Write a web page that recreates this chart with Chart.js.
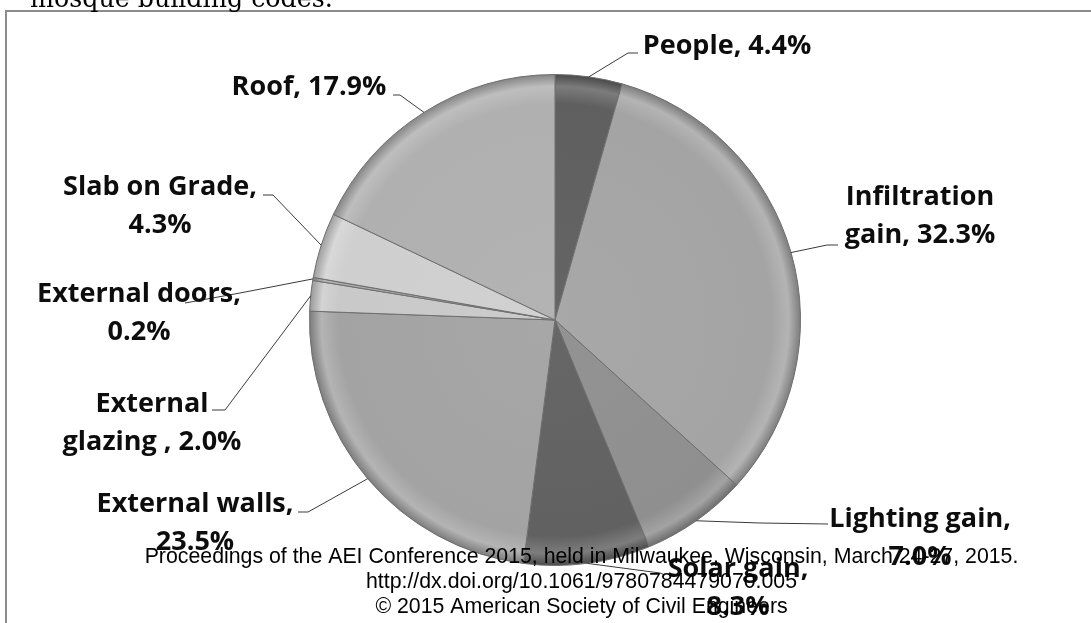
<!DOCTYPE html>
<html>
<head>
<meta charset="utf-8">
<script src="https://cdn.jsdelivr.net/npm/chart.js@4.4.1/dist/chart.umd.min.js"></script>
<style>
  html, body { margin: 0; padding: 0; background: #fff; overflow: hidden; }
  #wrap { position: relative; width: 1091px; height: 623px; }
  #frame { position: absolute; left: 5px; top: 10px; width: 1200px; height: 700px;
           border: 2px solid #8c8c8c; box-sizing: border-box; }
  canvas { position: absolute; left: 0; top: 0; }
</style>
</head>
<body>
<div id="wrap">
  <div id="frame"></div>
  <canvas id="c" width="1091" height="623"></canvas>
</div>
<script>
// ---- data ----
const categories = ['People', 'Infiltration gain', 'Lighting gain', 'Solar gain', 'External walls',
                    'External glazing ', 'External doors', 'Slab on Grade', 'Roof'];
const values = [4.4, 32.3, 7.0, 8.3, 23.5, 2.0, 0.2, 4.3, 17.9];
const headerText = 'mosque building codes.';
const footerLines = [
  'Proceedings of the AEI Conference 2015, held in Milwaukee, Wisconsin, March 24-27, 2015.',
  'http://dx.doi.org/10.1061/9780784479070.005',
  '\u00A9 2015 American Society of Civil Engineers'
];

// ---- styles / layout ----
const sliceColors = ['#5f5f5f', '#a4a4a4', '#8f8f8f', '#616161', '#a3a3a3',
                     '#c9c9c9', '#a8a8a8', '#cfcfcf', '#b0b0b0'];
// label layout relative to pie centre: break after N words, elbow, end, text centre x, first baseline
const labelLayout = [
  { brk: 0, elbow: [73, -267],  end: [83, -267],  tx: 172,  ty: -266 },
  { brk: 1, elbow: [272, -75],  end: [283, -75],  tx: 365,  ty: -115 },
  { brk: 2, elbow: [205, 203],  end: [273, 204],  tx: 365,  ty: 207 },
  { brk: 2, elbow: [105, 253],  end: [110, 255],  tx: 183,  ty: 257 },
  { brk: 2, elbow: [-247, 192], end: [-257, 192], tx: -360, ty: 192 },
  { brk: 1, elbow: [-330, 90],  end: [-343, 90],  tx: -403, ty: 92 },
  { brk: 2, elbow: [-315, -27], end: [-370, -17], tx: -416, ty: -18 },
  { brk: 3, elbow: [-282, -125],end: [-292, -125],tx: -395, ty: -125 },
  { brk: 0, elbow: [-155, -225],end: [-162, -225],tx: -246, ty: -225 }
];
const LABEL_FONT = 'bold 27px "Open Sans"';
const LINE_H = 38;

function shade(hex, f) {
  const n = parseInt(hex.slice(1), 16);
  let r = (n >> 16) & 255, g = (n >> 8) & 255, b = n & 255;
  const t = f > 0 ? 255 : 0, a = Math.abs(f);
  r = Math.round(r + (t - r) * a); g = Math.round(g + (t - g) * a); b = Math.round(b + (t - b) * a);
  return `rgb(${r},${g},${b})`;
}

const labelPlugin = {
  id: 'labels',
  afterDatasetsDraw(chart) {
    const ctx = chart.ctx;
    const meta = chart.getDatasetMeta(0);
    ctx.save();
    meta.data.forEach((arc, i) => {
      const p = arc.getProps(['x', 'y', 'startAngle', 'endAngle', 'outerRadius'], true);
      const mid = (p.startAngle + p.endAngle) / 2;
      const sx = p.x + Math.cos(mid) * p.outerRadius;
      const sy = p.y + Math.sin(mid) * p.outerRadius;
      const L = labelLayout[i];
      ctx.strokeStyle = '#3a3a3a';
      ctx.lineWidth = 1;
      ctx.beginPath();
      ctx.moveTo(sx, sy);
      ctx.lineTo(p.x + L.elbow[0], p.y + L.elbow[1]);
      ctx.lineTo(p.x + L.end[0], p.y + L.end[1]);
      ctx.stroke();
      const full = categories[i] + ', ' + values[i].toFixed(1) + '%';
      const words = full.split(' ');
      const lines = L.brk ? [words.slice(0, L.brk).join(' '), words.slice(L.brk).join(' ')] : [full];
      ctx.font = LABEL_FONT;
      ctx.fillStyle = '#0d0d0d';
      ctx.textAlign = 'center';
      ctx.textBaseline = 'alphabetic';
      lines.forEach((ln, k) => ctx.fillText(ln, p.x + L.tx, p.y + L.ty + k * LINE_H));
    });
    ctx.restore();
  },
  afterDraw(chart) {
    const ctx = chart.ctx;
    ctx.save();
    ctx.fillStyle = '#000';
    ctx.textAlign = 'left';
    ctx.textBaseline = 'alphabetic';
    ctx.font = '25.3px "DejaVu Serif"';
    ctx.fillText(headerText, 30, 7);
    ctx.textAlign = 'center';
    ctx.font = '21.3px "Liberation Sans"';
    footerLines.forEach((t, k) => ctx.fillText(t, 581.5, 563 + k * 25));
    ctx.restore();
  }
};

new Chart(document.getElementById('c'), {
  type: 'pie',
  data: {
    labels: categories,
    datasets: [{
      data: values,
      backgroundColor: (ctx) => {
        const chart = ctx.chart;
        const a = chart.chartArea;
        const base = sliceColors[ctx.dataIndex];
        if (!a) return base;
        const cx = (a.left + a.right) / 2, cy = (a.top + a.bottom) / 2;
        const r = Math.min(a.right - a.left, a.bottom - a.top) / 2;
        const g = chart.ctx.createRadialGradient(cx, cy, 0, cx, cy, r);
        g.addColorStop(0, shade(base, 0.04));
        g.addColorStop(0.88, base);
        g.addColorStop(0.95, shade(base, 0.18));
        g.addColorStop(1, shade(base, -0.25));
        return g;
      },
      borderColor: '#6e6e6e',
      borderWidth: 1
    }]
  },
  options: {
    responsive: false,
    animation: false,
    layout: { padding: { left: 309, right: 290, top: 74, bottom: 57 } },
    plugins: { legend: { display: false }, tooltip: { enabled: false } }
  },
  plugins: [labelPlugin]
});
</script>
</body>
</html>
